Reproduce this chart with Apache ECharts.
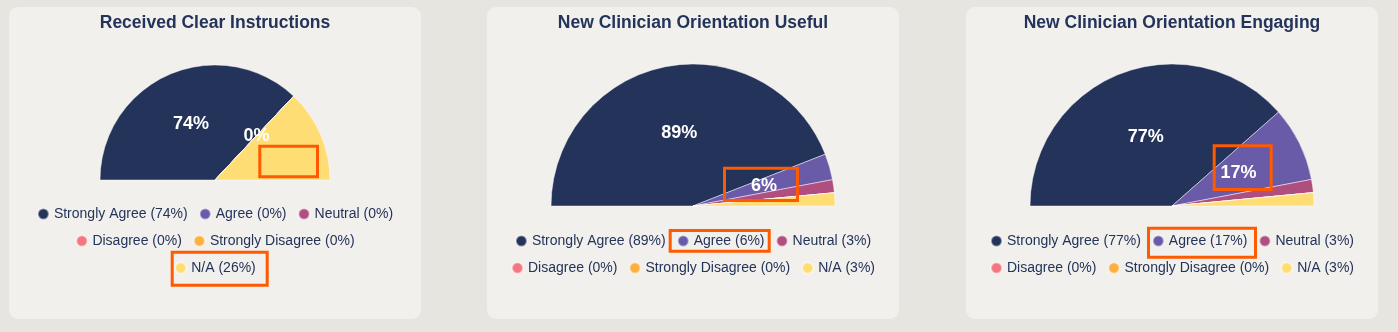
<!DOCTYPE html>
<html>
<head>
<meta charset="utf-8">
<title>Clinician Survey</title>
<script src="https://cdn.jsdelivr.net/npm/echarts@6/dist/echarts.min.js"></script>
<style>
  html, body { margin: 0; padding: 0; width: 1398px; height: 332px; overflow: hidden; background: #e7e5e0; }
  .card { position: absolute; top: 7px; width: 412px; height: 312px; border-radius: 9px; background: #f2f0ec; }
</style>
</head>
<body>
<div class="card" id="card1" style="left:9px"></div>
<div class="card" id="card2" style="left:487px"></div>
<div class="card" id="card3" style="left:966px"></div>
<script>
// Response categories, in legend order
const categories = ['Strongly Agree', 'Agree', 'Neutral', 'Disagree', 'Strongly Disagree', 'N/A'];
const categoryColors = ['#23335a', '#6a5ba9', '#b04e80', '#f4777f', '#fdb042', '#fedd74'];

// Chart titles
const titles = ['Received Clear Instructions', 'New Clinician Orientation Useful', 'New Clinician Orientation Engaging'];

// Percent of responses per category
const clearInstructions = [74, 0, 0, 0, 0, 26];
const orientationUseful = [89, 6, 3, 0, 0, 3];
const orientationEngaging = [77, 17, 3, 0, 0, 3];

const FONT = "'Liberation Sans', Arial, sans-serif";
const NAVY = '#23335a';
const HIGHLIGHT = '#ff5a00';

// Per-card layout: half-pie placement, slices whose in-slice label is suppressed,
// legend rows (category indices) and highlight boxes
const cards = [
  {
    el: 'card1', values: clearInstructions, center: ['50%', 173], radius: 115,
    noLabel: [5],
    rows: [[0, 1, 2], [3, 4], [5]], rowTops: [200, 227, 254],
    boxes: [[250.8, 139.2, 57.7, 30.6], [163.2, 245.2, 95, 33]]
  },
  {
    el: 'card2', values: orientationUseful, center: ['50%', 199], radius: 142,
    noLabel: [2, 3, 4, 5],
    rows: [[0, 1, 2], [3, 4, 5]], rowTops: [227, 254],
    boxes: [[237.5, 161.2, 73, 32.3], [183.2, 223.5, 99, 20.7]]
  },
  {
    el: 'card3', values: orientationEngaging, center: ['50%', 199], radius: 142,
    noLabel: [2, 3, 4, 5],
    rows: [[0, 1, 2], [3, 4, 5]], rowTops: [227, 254],
    boxes: [[248.2, 138.8, 57, 43.7], [182.5, 221.2, 107, 29]]
  }
];

cards.forEach((card, ci) => {
  const chart = echarts.init(document.getElementById(card.el), null, { renderer: 'canvas' });
  const values = card.values;

  const legends = card.rows.map((row, ri) => ({
    data: row.map(i => categories[i]),
    left: 'center',
    top: card.rowTops[ri],
    padding: 0,
    icon: 'circle',
    itemWidth: 11,
    itemHeight: 11,
    itemGap: 11,
    textStyle: { fontFamily: FONT, fontSize: 14, color: NAVY },
    formatter: name => `${name} (${values[categories.indexOf(name)]}%)`
  }));

  chart.setOption({
    animation: false,
    color: categoryColors,
    title: {
      text: titles[ci],
      left: 'center',
      top: 7,
      padding: 0,
      textStyle: { fontFamily: FONT, fontSize: 17.5, fontWeight: 'bold', color: NAVY }
    },
    legend: legends,
    series: [{
      type: 'pie',
      center: card.center,
      radius: card.radius,
      startAngle: 180,
      endAngle: 360,
      itemStyle: { borderColor: 'rgba(255,255,255,0.45)', borderWidth: 1 },
      label: {
        show: true,
        position: 'inside',
        formatter: '{c}%',
        color: '#ffffff',
        fontFamily: FONT,
        fontSize: 18,
        fontWeight: 'bold'
      },
      emphasis: { disabled: true },
      data: categories.map((name, i) => ({
        name,
        value: values[i],
        label: { show: !card.noLabel.includes(i) }
      }))
    }],
    graphic: card.boxes.map(b => ({
      type: 'rect',
      z: 100,
      shape: { x: b[0], y: b[1], width: b[2], height: b[3] },
      style: { fill: 'none', stroke: HIGHLIGHT, lineWidth: 3 }
    }))
  });
});
</script>
</body>
</html>
